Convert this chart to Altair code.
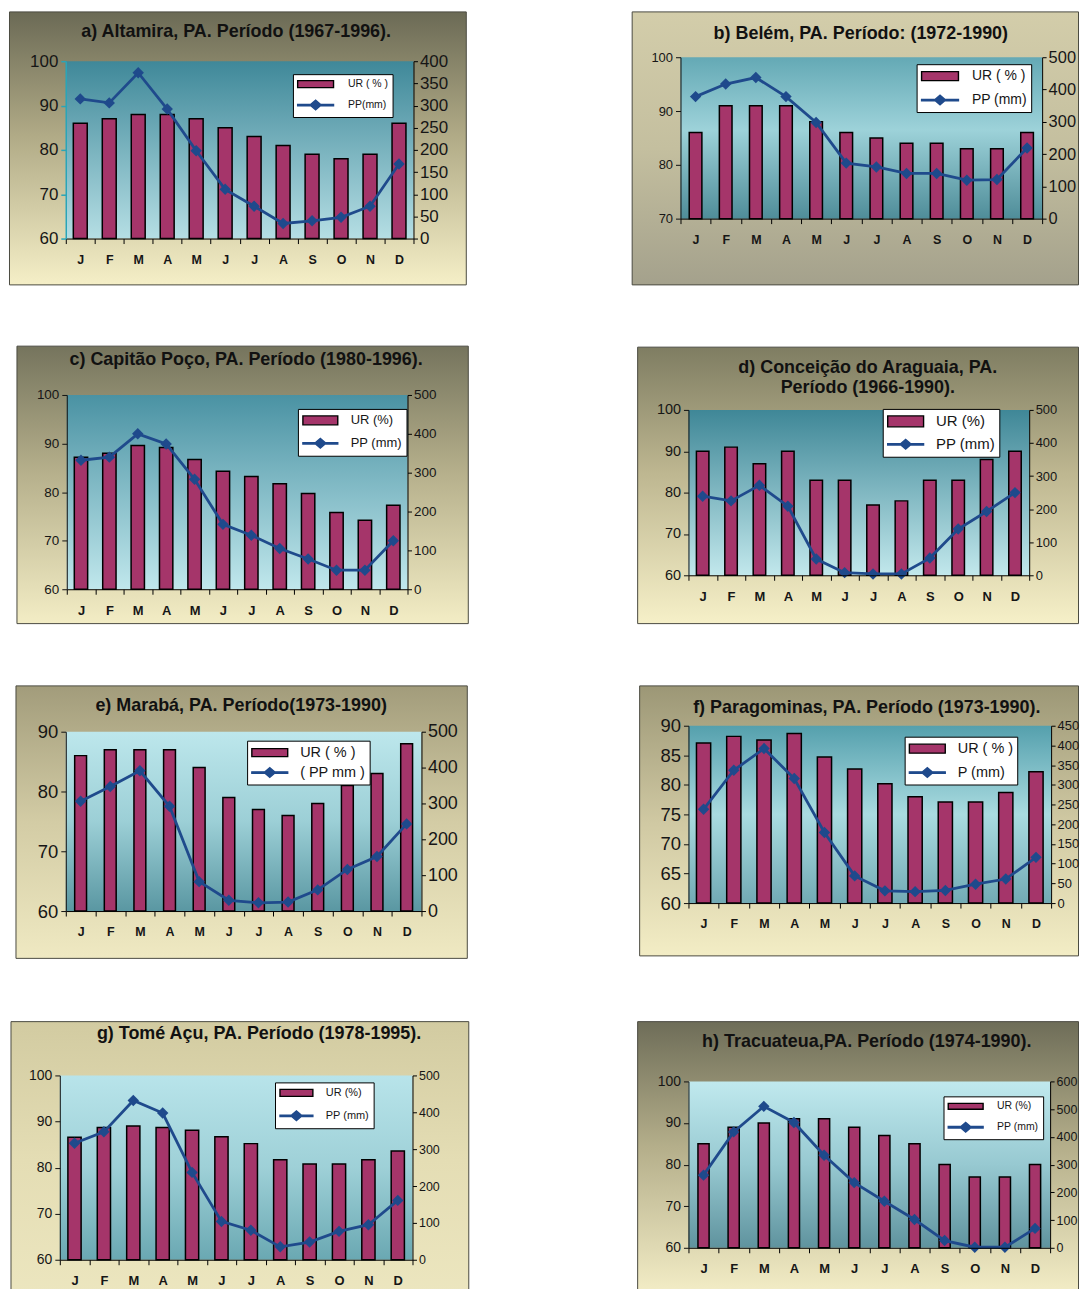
import altair as alt
import pandas as pd

FONT = "Liberation Sans"
TXT = "#161616"
BAR_FILL = "#a5356a"
LINE_COLOR = "#1f4a8c"

MONTH_KEYS = ["Jan", "Feb", "Mar", "Apr", "May", "Jun", "Jul", "Aug", "Sep", "Oct", "Nov", "Dec"]

# a) Altamira
UR_A = [86, 87, 88, 88, 87, 85, 83, 81, 79, 78, 79, 86]
PP_A = [315, 306, 374, 292, 198, 111, 73, 34, 40, 48, 73, 168]
# b) Belem
UR_B = [86, 91, 91, 91, 88, 86, 85, 84, 84, 83, 83, 86]
PP_B = [378, 417, 437, 378, 298, 172, 160, 140, 140, 119, 121, 219]
# c) Capitao Poco
UR_C = [87.2, 88.0, 89.6, 89.2, 86.7, 84.3, 83.2, 81.7, 79.7, 75.8, 74.2, 77.3]
PP_C = [332, 340, 400, 374, 283, 167, 139, 105, 78, 49, 49, 125]
# d) Conceicao do Araguaia
UR_D = [90, 91, 87, 90, 83, 83, 77, 78, 83, 83, 88, 90]
PP_D = [239, 225, 272, 209, 49, 8, 4, 4, 52, 140, 193, 250]
# e) Maraba
UR_E = [86, 87, 87, 87, 84, 79, 77, 76, 78, 81, 83, 88]
PP_E = [306, 347, 391, 292, 82, 30, 23, 25, 59, 116, 152, 243]
# f) Paragominas
UR_F = [87.1, 88.2, 87.6, 88.7, 84.7, 82.7, 80.2, 78.0, 77.1, 77.1, 78.7, 82.2]
PP_F = [238, 337, 392, 316, 179, 69, 31, 29, 32, 48, 61, 116]
# g) Tome Acu
UR_G = [86.6, 88.7, 89.0, 88.7, 88.1, 86.7, 85.2, 81.7, 80.8, 80.8, 81.7, 83.6]
PP_G = [316, 347, 432, 398, 237, 104, 80, 35, 48, 77, 95, 161]
# h) Tracuateua
UR_H = [85, 89, 90, 91, 91, 89, 87, 85, 80, 77, 77, 80]
PP_H = [262, 418, 510, 452, 334, 235, 168, 102, 26, 2, 2, 70]

TITLES = {
    "a": ["a) Altamira, PA. Período (1967-1996)."],
    "b": ["b) Belém, PA. Período: (1972-1990)"],
    "c": ["c) Capitão Poço, PA. Período (1980-1996)."],
    "d": ["d) Conceição do Araguaia, PA.", "Período (1966-1990)."],
    "e": ["e) Marabá, PA. Período(1973-1990)"],
    "f": ["f) Paragominas, PA. Período (1973-1990)."],
    "g": ["g) Tomé Açu, PA. Período (1978-1995)."],
    "h": ["h) Tracuateua,PA. Período (1974-1990)."],
}
LEGEND_LABELS = {
    "a": ["UR ( % )", "PP(mm)"],
    "b": ["UR ( % )", "PP (mm)"],
    "c": ["UR (%)", "PP (mm)"],
    "d": ["UR (%)", "PP (mm)"],
    "e": ["UR ( % )", "( PP mm )"],
    "f": ["UR ( % )", "P (mm)"],
    "g": ["UR (%)", "PP (mm)"],
    "h": ["UR (%)", "PP (mm)"],
}
UR_TICKS = {
    "a": [60, 70, 80, 90, 100], "b": [70, 80, 90, 100], "c": [60, 70, 80, 90, 100],
    "d": [60, 70, 80, 90, 100], "e": [60, 70, 80, 90], "f": [60, 65, 70, 75, 80, 85, 90],
    "g": [60, 70, 80, 90, 100], "h": [60, 70, 80, 90, 100],
}
PP_TICKS = {
    "a": [0, 50, 100, 150, 200, 250, 300, 350, 400],
    "b": [0, 100, 200, 300, 400, 500], "c": [0, 100, 200, 300, 400, 500],
    "d": [0, 100, 200, 300, 400, 500], "e": [0, 100, 200, 300, 400, 500],
    "f": [0, 50, 100, 150, 200, 250, 300, 350, 400, 450],
    "g": [0, 100, 200, 300, 400, 500], "h": [0, 100, 200, 300, 400, 500, 600],
}
DATA = {"a": (UR_A, PP_A), "b": (UR_B, PP_B), "c": (UR_C, PP_C), "d": (UR_D, PP_D),
        "e": (UR_E, PP_E), "f": (UR_F, PP_F), "g": (UR_G, PP_G), "h": (UR_H, PP_H)}

# layout / style per panel (page pixel boxes: x1, y1, x2, y2)
LEFT_COL = (8, 470)
RIGHT_COL = (631, 1080)
ROWS = [(8, 283), (341, 621), (679, 955), (1013, 1294)]
ROW_SPACING = 58
DY = -2  # small vertical nudge of the inner content

STYLE = {
    "a": dict(col=LEFT_COL, row=ROWS[0], plot=(65, 60, 414, 238), frame=(8, 8, 467, 283),
              lfs=17, rfs=17, mfs=12.5, tfs=18, tpos=(236, 31), leg=(293, 73), lgfs=10.5, symw=36, symh=7,
              rowpad=6, band=0.48, laxc="#2aa5b7", laxw=1.5,
              fgrad=[(0, "#6b6a55"), (0.45, "#b0aa86"), (1, "#f5efc7")],
              pgrad=[(0, "#3f8899"), (1, "#b5dee4")]),
    "b": dict(col=RIGHT_COL, row=ROWS[0], plot=(680, 56, 1043, 218), frame=(631, 8, 1080, 283),
              lfs=13, rfs=16.5, mfs=12.5, tfs=18, tpos=(861, 33), leg=(917, 63), lgfs=14, symw=37, symh=9,
              rowpad=8, band=0.42, laxc="#111111", laxw=1,
              fgrad=[(0, "#d3cdaa"), (0.5, "#c4bf9f"), (1, "#a4a18c")],
              pgrad=[(0, "#64a9b5"), (0.45, "#9dd2d9"), (1, "#4f8d99")]),
    "c": dict(col=LEFT_COL, row=ROWS[1], plot=(66, 393, 408, 588), frame=(16, 342, 469, 621),
              lfs=13.5, rfs=13.5, mfs=13, tfs=18, tpos=(246, 358), leg=(298, 407), lgfs=13, symw=35, symh=9,
              rowpad=7, band=0.47, laxc="#111111", laxw=1,
              fgrad=[(0, "#75745d"), (0.45, "#b5af8b"), (1, "#f3edc5")],
              pgrad=[(0, "#4a92a3"), (1, "#c0e7ec")]),
    "d": dict(col=RIGHT_COL, row=ROWS[1], plot=(688, 408, 1030, 574), frame=(637, 343, 1080, 621),
              lfs=14.5, rfs=13, mfs=13, tfs=18, tpos=(868, 366), leg=(883, 407), lgfs=15, symw=36, symh=11,
              rowpad=6, band=0.44, laxc="#111111", laxw=1,
              fgrad=[(0, "#7f7d62"), (0.45, "#bdb690"), (1, "#f6f0c8")],
              pgrad=[(0, "#3f8797"), (1, "#c2e8ec")]),
    "e": dict(col=LEFT_COL, row=ROWS[2], plot=(65, 729, 422, 909), frame=(15, 681, 468, 955),
              lfs=18.5, rfs=18, mfs=12.5, tfs=18, tpos=(241, 703), leg=(247, 738), lgfs=14.5, symw=36, symh=8,
              rowpad=5, band=0.40, laxc="#111111", laxw=1,
              fgrad=[(0, "#a29c7b"), (0.5, "#d3cca5"), (1, "#efe9c2")],
              pgrad=[(0, "#bde7ec"), (0.5, "#9ccfd6"), (1, "#5a97a2")]),
    "f": dict(col=RIGHT_COL, row=ROWS[2], plot=(688, 723, 1052, 901), frame=(639, 681, 1080, 952),
              lfs=18.5, rfs=13, mfs=12.5, tfs=18, tpos=(867, 705), leg=(905, 734), lgfs=14.5, symw=36, symh=9,
              rowpad=8, band=0.47, laxc="#111111", laxw=1,
              fgrad=[(0, "#9c9776"), (0.5, "#cfc8a2"), (1, "#f3edc5")],
              pgrad=[(0, "#55a0ad"), (0.5, "#a9dbe0"), (1, "#72aab4")]),
    "g": dict(col=LEFT_COL, row=ROWS[3], plot=(59, 1072, 413, 1257), frame=(10, 1016, 470, 1300),
              lfs=14, rfs=12.5, mfs=13, tfs=18, tpos=(259, 1030), leg=(275, 1079), lgfs=11, symw=33, symh=7,
              rowpad=8, band=0.45, laxc="#111111", laxw=1,
              fgrad=[(0, "#d2cba1"), (0.5, "#e4ddb4"), (1, "#ece6bf")],
              pgrad=[(0, "#b8e4ea"), (0.5, "#9ed0d7"), (1, "#6aa8b2")]),
    "h": dict(col=RIGHT_COL, row=ROWS[3], plot=(688, 1078, 1051, 1245), frame=(637, 1016, 1080, 1300),
              lfs=14, rfs=12.5, mfs=13, tfs=18, tpos=(867, 1038), leg=(944, 1093), lgfs=10.5, symw=35, symh=6,
              rowpad=7, band=0.37, laxc="#111111", laxw=1,
              fgrad=[(0, "#6e6d58"), (0.45, "#b4ae8a"), (1, "#f5efc8")],
              pgrad=[(0, "#c0e9ee"), (0.5, "#97c9d1"), (1, "#5f939e")]),
}


def grad(stops):
    return alt.LinearGradient(
        gradient="linear",
        stops=[alt.GradientStop(color=c, offset=o) for o, c in stops],
        x1=0, x2=0, y1=0, y2=1,
    )


def panel(key):
    st = STYLE[key]
    ur, pp = DATA[key]
    sx1, sx2 = st["col"]
    sy1, sy2 = st["row"]
    W, H = sx2 - sx1, sy2 - sy1
    px1, py1, px2, py2 = st["plot"]
    py1 += DY
    py2 += DY
    one = alt.Data(values=[{"k": 0}])

    def box_layer(box, **mk):
        x1, y1, x2, y2 = box
        return alt.Chart(one).mark_rect(**mk).encode(
            x=alt.value(x1 - sx1), x2=alt.value(x2 - sx1),
            y=alt.value(y1 - sy1), y2=alt.value(y2 - sy1),
        )

    fx1, fy1, fx2, fy2 = st["frame"]
    # keep the frame's border inside the panel slot
    fbox = (max(fx1, sx1 + 0.5), max(fy1, sy1 + 0.5), min(fx2, sx2 - 0.5), min(fy2, sy2 - 0.5))
    slot = box_layer((sx1, sy1, sx2, sy2), fill="#ffffff")
    frame = box_layer(fbox, fill=grad(st["fgrad"]), stroke="#4a4a40", strokeWidth=1)
    plotbg = box_layer((px1, py1, px2, py2), fill=grad(st["pgrad"]))

    tx, ty = st["tpos"]
    ty += DY
    tlines = TITLES[key]
    title = alt.Chart(one).mark_text(
        text=tlines if len(tlines) > 1 else tlines[0], font=FONT, fontWeight="bold",
        fontSize=st["tfs"], color="#111111", align="center", baseline="middle", lineHeight=20,
    ).encode(x=alt.value(tx - sx1), y=alt.value(ty - sy1))

    labels = LEGEND_LABELS[key]
    fs = st["lgfs"]
    s = fs
    k = s / 2.0
    hw = (st["symw"] / 2.0) / k
    bh = (st["symh"] / 2.0) / k
    lt = 0.7 / k
    dd = 4.8 / k
    bar_path = f"M{-hw:.3f},{-bh:.3f}H{hw:.3f}V{bh:.3f}H{-hw:.3f}Z"
    line_path = (f"M{-hw:.3f},{-lt:.3f}H{-dd:.3f}L0,{-dd:.3f}L{dd:.3f},{-lt:.3f}H{hw:.3f}"
                 f"V{lt:.3f}H{dd:.3f}L0,{dd:.3f}L{-dd:.3f},{lt:.3f}H{-hw:.3f}Z")
    lx, ly = st["leg"]
    ly += DY
    L = alt.Legend(
        title=None, orient="none", legendX=lx - sx1, legendY=ly - sy1,
        fillColor="#ffffff", strokeColor="#000000", padding=4, cornerRadius=0,
        labelFont=FONT, labelFontSize=fs, labelColor=TXT,
        symbolSize=s * s, symbolStrokeWidth=1.4,
        symbolOffset=st["symw"] / 2.0 - s / 2.0, labelOffset=st["symw"] + 1 - s,
        rowPadding=st["rowpad"],
    )
    fill_sc = alt.Scale(domain=labels, range=[BAR_FILL, LINE_COLOR])
    stroke_sc = alt.Scale(domain=labels, range=["#000000", LINE_COLOR])
    shape_sc = alt.Scale(domain=labels, range=[bar_path, line_path])

    ur_df = pd.DataFrame({"m": MONTH_KEYS, "v": ur, "s": labels[0]})
    pp_df = pd.DataFrame({"m": MONTH_KEYS, "v": pp, "s": labels[1]})

    xaxis = alt.Axis(
        title=None, labelExpr="isString(datum.value) ? substring(datum.value,0,1) : ''",
        labelAngle=0, labelFont=FONT, labelFontWeight="bold", labelFontSize=st["mfs"],
        labelColor=TXT, tickBand="extent", tickSize=5, tickColor="#000000",
        domainColor="#000000", labelPadding=10, zindex=1, offset=-(sy2 - py2),
    )
    xenc = alt.X(
        "m:N", sort=MONTH_KEYS,
        scale=alt.Scale(paddingInner=0, paddingOuter=0, range=[px1 - sx1, px2 - sx1]),
        axis=xaxis,
    )

    ur_dom = [UR_TICKS[key][0], UR_TICKS[key][-1]]
    pp_dom = [PP_TICKS[key][0], PP_TICKS[key][-1]]
    yrange = [py2 - sy1, py1 - sy1]
    laxis = alt.Axis(
        title=None, orient="left", values=UR_TICKS[key], grid=False, labelOverlap=False,
        labelFont=FONT, labelFontSize=st["lfs"], labelColor=TXT, tickSize=5,
        tickColor=st["laxc"], domainColor=st["laxc"], domainWidth=st["laxw"], tickWidth=st["laxw"],
        labelPadding=3, zindex=1, offset=-(px1 - sx1),
    )
    raxis = alt.Axis(
        title=None, orient="right", values=PP_TICKS[key], grid=False, labelOverlap=False,
        labelFont=FONT, labelFontSize=st["rfs"], labelColor=TXT, tickSize=4,
        tickColor="#000000", domainColor="#000000", labelPadding=2, zindex=1,
        offset=-(sx2 - px2),
    )

    bars = alt.Chart(ur_df).mark_bar(width=alt.RelativeBandSize(band=st["band"]), strokeWidth=1.5).encode(
        x=xenc,
        y=alt.Y("v:Q", scale=alt.Scale(domain=ur_dom, nice=False, zero=False, range=yrange), axis=laxis),
        y2=alt.datum(ur_dom[0]),
        fill=alt.Fill("s:N", scale=fill_sc, legend=L),
        stroke=alt.Stroke("s:N", scale=stroke_sc, legend=L),
    )
    line = alt.Chart(pp_df).mark_line(
        strokeWidth=2.8,
        point=alt.OverlayMarkDef(shape="diamond", filled=True, fill=LINE_COLOR, size=75),
    ).encode(
        x=xenc,
        y=alt.Y("v:Q", scale=alt.Scale(domain=pp_dom, nice=False, zero=True, range=yrange), axis=raxis),
        stroke=alt.Stroke("s:N", scale=stroke_sc, legend=L),
    )
    dummy = alt.Chart(pp_df).mark_point().encode(
        shape=alt.Shape("s:N", scale=shape_sc, legend=L),
    ).transform_filter("false")

    return alt.layer(slot, frame, plotbg, bars, line, dummy, title).resolve_scale(
        y="independent"
    ).properties(width=W, height=H)


IND = dict(fill="independent", stroke="independent", shape="independent", x="independent", y="independent")
LIND = dict(fill="independent", stroke="independent", shape="independent")

rows = []
for a, b in [("a", "b"), ("c", "d"), ("e", "f"), ("g", "h")]:
    rows.append(alt.hconcat(panel(a), panel(b), spacing=161).resolve_scale(**IND).resolve_legend(**LIND))

chart = alt.vconcat(*rows, spacing=ROW_SPACING).resolve_scale(**IND).resolve_legend(**LIND).properties(
    padding=0, background="#ffffff"
).configure_view(stroke="transparent")

chart.save("out.html", embed_options={"renderer": "svg", "actions": False})
